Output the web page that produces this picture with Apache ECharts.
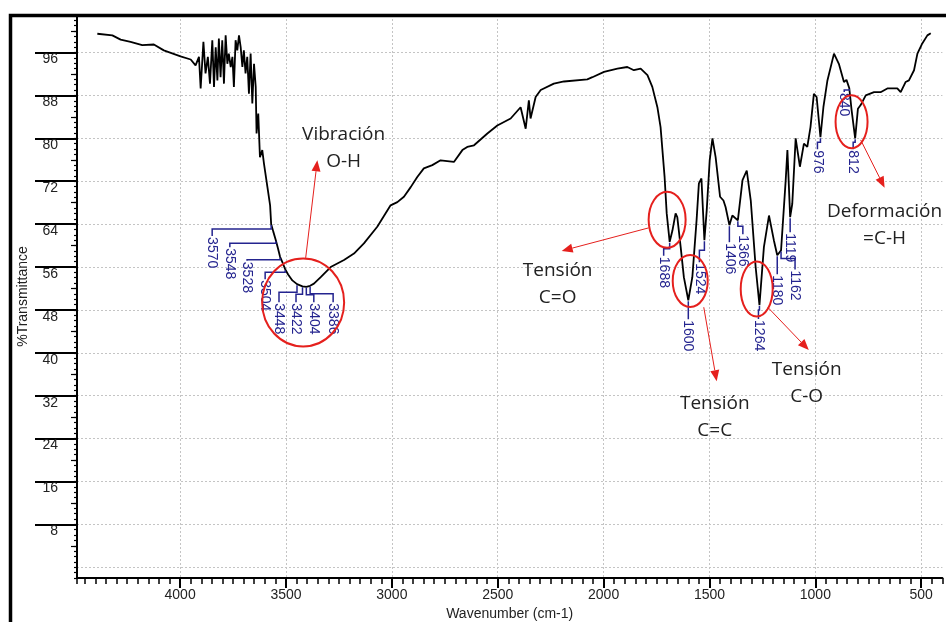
<!DOCTYPE html>
<html>
<head>
<meta charset="utf-8">
<title>Espectro FTIR</title>
<script src="https://cdn.jsdelivr.net/npm/echarts@6/dist/echarts.min.js"></script>
<style>
html, body { margin: 0; padding: 0; background: #fff; }
#main { width: 946px; height: 622px; }
</style>
</head>
<body>
<div id="main"></div>
<script>
// spectrum (cm-1 / %T)
var wavenumber = [4391, 4320, 4281, 4234, 4179, 4124, 4077, 3998, 3950, 3927,
    3911, 3903, 3890, 3880, 3869, 3859, 3848, 3840, 3832, 3824, 3817, 3809, 3801, 3793, 3785,
    3777, 3770, 3761, 3753, 3746, 3738, 3730, 3722, 3714, 3706, 3699, 3691, 3683, 3675, 3667,
    3659, 3651, 3643, 3639, 3631, 3623, 3612, 3604, 3588, 3575, 3570, 3560, 3548, 3538, 3528,
    3516, 3504, 3490, 3470, 3448, 3422, 3404, 3386, 3368, 3336, 3289, 3226, 3179, 3132, 3069,
    3006, 2974, 2943, 2911, 2880, 2849, 2809, 2770, 2707, 2667, 2644, 2612, 2549, 2502, 2439,
    2392, 2368, 2353, 2345, 2321, 2297, 2235, 2187, 2077, 2053, 1998, 1935, 1888, 1857, 1825,
    1793, 1770, 1746, 1731, 1712, 1702, 1688, 1675, 1660, 1652, 1636, 1621, 1600, 1581, 1561,
    1550, 1538, 1524, 1513, 1499, 1486, 1471, 1450, 1434, 1424, 1406, 1392, 1366, 1344, 1324,
    1305, 1282, 1264, 1243, 1219, 1196, 1180, 1162, 1140, 1132, 1119, 1109, 1093, 1073, 1054,
    1038, 1023, 1007, 994, 976, 962, 943, 912, 889, 865, 853, 840, 829, 812, 799,
    786, 762, 723, 692, 660, 613, 597, 574, 558, 534, 518, 495, 471, 455];
var transmittance = [99.5, 99.2, 98.4, 98.0, 97.4, 97.5, 96.4, 95.3, 94.7, 93.6,
    95.2, 89.3, 98.0, 92.1, 95.2, 90.2, 98.3, 89.6, 97.0, 90.8, 98.6, 91.4, 98.3, 90.2, 99.2,
    93.9, 95.8, 93.3, 95.2, 89.6, 98.3, 96.4, 99.2, 97.0, 93.3, 96.4, 92.1, 95.2, 88.3, 95.8,
    86.5, 93.9, 89.6, 80.9, 84.6, 76.5, 77.8, 75.3, 71.0, 67.5, 64.0, 62.6, 61.0, 59.5, 57.9,
    56.8, 55.6, 54.6, 53.5, 52.8, 52.4, 52.3, 52.5, 52.9, 54.1, 56.0, 57.3, 58.5, 60.4, 63.5,
    67.5, 68.1, 69.1, 70.9, 72.8, 74.4, 75.0, 75.9, 75.6, 77.8, 78.4, 78.7, 80.9, 82.4, 83.7,
    85.8, 81.8, 87.1, 83.7, 87.7, 89.0, 90.2, 90.6, 91.0, 91.4, 92.4, 93.0, 93.3, 92.7, 93.0,
    91.8, 89.6, 85.8, 82.1, 72.8, 66.0, 60.7, 62.8, 66.0, 65.3, 59.7, 54.1, 49.8, 54.1, 64.7,
    71.6, 72.5, 61.0, 66.6, 75.9, 80.0, 76.5, 69.1, 68.4, 67.2, 63.8, 65.6, 64.7, 72.2, 74.0,
    68.4, 56.0, 48.9, 59.7, 65.6, 61.0, 58.2, 59.1, 72.2, 77.8, 65.3, 67.8, 80.0, 74.7, 79.0,
    78.4, 82.1, 88.3, 87.7, 80.2, 85.8, 90.8, 95.8, 93.9, 90.5, 90.9, 89.4, 85.3, 80.0, 85.5,
    86.2, 88.0, 88.6, 88.6, 89.3, 89.3, 88.6, 90.5, 90.8, 92.7, 95.8, 97.7, 99.2, 99.6];

var xMajorTicks = [4000, 3500, 3000, 2500, 2000, 1500, 1000, 500];
var yMajorTicks = [8, 16, 24, 32, 40, 48, 56, 64, 72, 80, 88, 96];
var yGridValues = [0, 8, 16, 24, 32, 40, 48, 56, 64, 72, 80, 88, 96];
var yMidTicks = [4, 12, 20, 28, 36, 44, 52, 60, 68, 76, 84, 92, 100];

// labelled peaks
var peakWn = [3570, 3548, 3528, 3504, 3448, 3422, 3404, 3386,
    1688, 1600, 1524, 1406, 1366, 1264, 1180, 1162, 1119, 976, 840, 812];
// leader layout in px: [dx to label, first drop, drop to label top]
var peakLayout = [[-59, 5, 13], [-46, 3, 8], [-33, 3, 5], [-20, 3, 11],
    [-18, 8, 19], [-6.5, 8, 17], [7.5, 8, 16.5], [23, 8, 17.5],
    [-6, 7, 15], [0, 6, 20], [-5, 10, 23], [0, 6, 18], [5, 6, 15], [-1, 5, 15],
    [0, 6, 20], [14, 8, 20], [0, 6, 16], [-3, 5, 13], [-5, 2, 5], [-2, 4, 12]];

// annotations (in axis units), radii in px
var circles = [[3419, 49.4, 41, 44], [1700, 64.8, 18.5, 28], [1591, 53.4, 17.5, 26],
    [1277, 51.9, 16, 27.5], [829, 83.1, 16, 26.5]];
var arrows = [[3407, 57.7, 3352, 75.9], [1787, 63.3, 2198, 59.0], [1527, 48.5, 1466, 34.7],
    [1225, 48.5, 1031, 40.5], [786, 79.7, 673, 70.8]];
var notes = [['Vibración\nO-H', 3228, 78.1], ['Tensión\nC=O', 2217, 52.8],
    ['Tensión\nC=C', 1475, 28.1], ['Tensión\nC-O', 1041, 34.4], ['Deformación\n=C-H', 673, 63.8]];

var AXIS_FONT = '"Liberation Sans", Arial, sans-serif';
var BLUE = '#24248f';
var RED = '#e5201d';

function tAt(wn) {
    for (var i = 0; i < wavenumber.length - 1; i++) {
        var a = wavenumber[i], b = wavenumber[i + 1];
        if (wn <= a && wn >= b) {
            return transmittance[i] + (transmittance[i + 1] - transmittance[i]) * (a - wn) / (a - b);
        }
    }
    return transmittance[transmittance.length - 1];
}

function plain(v) { return String(v); }

var chart = echarts.init(document.getElementById('main'));

var xBase = { type: 'value', inverse: true, min: 400, max: 4487, position: 'bottom' };
var yBase = { type: 'value', min: -2, max: 103, position: 'left' };
var noLine = { show: false, onZero: false };

function renderPeak(params, api) {
    var p = api.coord([api.value(0), api.value(1)]);
    var L = peakLayout[params.dataIndex];
    var lx = p[0] + L[0], ys = p[1] + L[1], yt = p[1] + L[2];
    return {
        type: 'group',
        children: [{
            type: 'polyline',
            shape: { points: [[p[0], p[1] + 1], [p[0], ys], [lx, ys], [lx, yt - 1]] },
            style: { stroke: BLUE, lineWidth: 1.5, fill: null }
        }, {
            type: 'text',
            x: lx, y: yt,
            rotation: -Math.PI / 2,
            style: {
                text: String(peakWn[params.dataIndex]),
                fill: BLUE, font: '14px ' + AXIS_FONT,
                align: 'left', verticalAlign: 'middle'
            }
        }]
    };
}

function renderCircle(params, api) {
    var c = circles[params.dataIndex];
    var p = api.coord([c[0], c[1]]);
    return {
        type: 'ellipse',
        shape: { cx: p[0], cy: p[1], rx: c[2], ry: c[3] },
        style: { stroke: RED, lineWidth: 2, fill: null }
    };
}

function renderArrow(params, api) {
    var a = arrows[params.dataIndex];
    var s = api.coord([a[0], a[1]]);
    var t = api.coord([a[2], a[3]]);
    var ang = Math.atan2(t[1] - s[1], t[0] - s[0]);
    var hl = 11, hw = 4.5;
    var bx = t[0] - hl * Math.cos(ang), by = t[1] - hl * Math.sin(ang);
    var nx = -Math.sin(ang) * hw, ny = Math.cos(ang) * hw;
    return {
        type: 'group',
        children: [{
            type: 'line',
            shape: { x1: s[0], y1: s[1], x2: bx, y2: by },
            style: { stroke: RED, lineWidth: 1 }
        }, {
            type: 'polygon',
            shape: { points: [[t[0], t[1]], [bx + nx, by + ny], [bx - nx, by - ny]] },
            style: { fill: RED }
        }]
    };
}

function renderNote(params, api) {
    var n = notes[params.dataIndex];
    var p = api.coord([n[1], n[2]]);
    return {
        type: 'text',
        x: p[0], y: p[1],
        style: {
            text: n[0], fill: '#222', font: '19px "Open Sans", "Noto Sans", sans-serif',
            align: 'center', verticalAlign: 'middle', lineHeight: 27
        }
    };
}

var option = {
    animation: false,
    backgroundColor: '#fff',
    grid: { left: 77, right: 3.6, top: 15, bottom: 44, containLabel: false, outerBoundsMode: 'none' },
    xAxis: [
        Object.assign({}, xBase, {
            interval: 50,
            axisLine: { show: true, onZero: false, lineStyle: { color: '#000', width: 2 } },
            axisTick: { show: true, length: 6, lineStyle: { color: '#000', width: 1.5 } },
            axisLabel: { show: false },
            splitLine: { show: false }
        }),
        Object.assign({}, xBase, {
            axisLine: noLine,
            axisTick: { show: true, length: 10, customValues: xMajorTicks, lineStyle: { color: '#000', width: 2 } },
            axisLabel: { show: true, customValues: xMajorTicks, formatter: plain, margin: 10, color: '#222', fontSize: 14, fontFamily: AXIS_FONT },
            splitLine: { show: true, lineStyle: { color: '#c4c4c4', width: 1, type: [2, 2] } },
            name: 'Wavenumber (cm-1)',
            nameLocation: 'middle',
            nameGap: 25,
            nameTextStyle: { color: '#222', fontSize: 14, fontFamily: AXIS_FONT }
        })
    ],
    yAxis: [
        Object.assign({}, yBase, {
            interval: 1,
            axisLine: { show: true, onZero: false, lineStyle: { color: '#000', width: 2 } },
            axisTick: { show: true, length: 3, lineStyle: { color: '#000', width: 1.2 } },
            axisLabel: { show: false },
            splitLine: { show: false }
        }),
        Object.assign({}, yBase, {
            axisLine: noLine,
            axisTick: { show: true, length: 6, customValues: yMidTicks, lineStyle: { color: '#000', width: 1.2 } },
            axisLabel: { show: false },
            splitLine: { show: false }
        }),
        Object.assign({}, yBase, {
            axisLine: noLine,
            axisTick: { show: true, length: 42, customValues: yMajorTicks, lineStyle: { color: '#000', width: 2 } },
            axisLabel: { show: true, customValues: yMajorTicks, formatter: plain, margin: 19, verticalAlign: 'top', color: '#222', fontSize: 14, fontFamily: AXIS_FONT },
            splitLine: { show: false },
            name: '%Transmittance',
            nameLocation: 'middle',
            nameGap: 47,
            nameTextStyle: { color: '#222', fontSize: 14, fontFamily: AXIS_FONT }
        }),
        Object.assign({}, yBase, {
            axisLine: noLine,
            axisTick: { show: false, customValues: yGridValues },
            axisLabel: { show: false },
            splitLine: { show: true, lineStyle: { color: '#c4c4c4', width: 1, type: [2, 2] } }
        })
    ],
    graphic: [{
        type: 'polyline',
        shape: { points: [[10.5, 622], [10.5, 15.5], [946, 15.5]] },
        style: { stroke: '#000', lineWidth: 3.5, fill: null },
        z: 100
    }],
    series: [{
        type: 'line',
        name: 'spectrum',
        xAxisIndex: 0, yAxisIndex: 0,
        data: wavenumber.map(function(w, i) { return [w, transmittance[i]]; }),
        symbol: 'none',
        lineStyle: { color: '#000', width: 1.8 },
        z: 3
    }, {
        type: 'custom',
        name: 'peaks',
        xAxisIndex: 0, yAxisIndex: 0,
        data: peakWn.map(function(w) { return [w, tAt(w)]; }),
        renderItem: renderPeak,
        clip: false, silent: true, z: 4
    }, {
        type: 'custom',
        name: 'circles',
        xAxisIndex: 0, yAxisIndex: 0,
        data: circles.map(function(c) { return [c[0], c[1]]; }),
        renderItem: renderCircle,
        clip: false, silent: true, z: 5
    }, {
        type: 'custom',
        name: 'arrows',
        xAxisIndex: 0, yAxisIndex: 0,
        data: arrows.map(function(a) { return [a[0], a[1]]; }),
        renderItem: renderArrow,
        clip: false, silent: true, z: 5
    }, {
        type: 'custom',
        name: 'notes',
        xAxisIndex: 0, yAxisIndex: 0,
        data: notes.map(function(n) { return [n[1], n[2]]; }),
        renderItem: renderNote,
        clip: false, silent: true, z: 5
    }]
};

chart.setOption(option);
</script>
</body>
</html>
